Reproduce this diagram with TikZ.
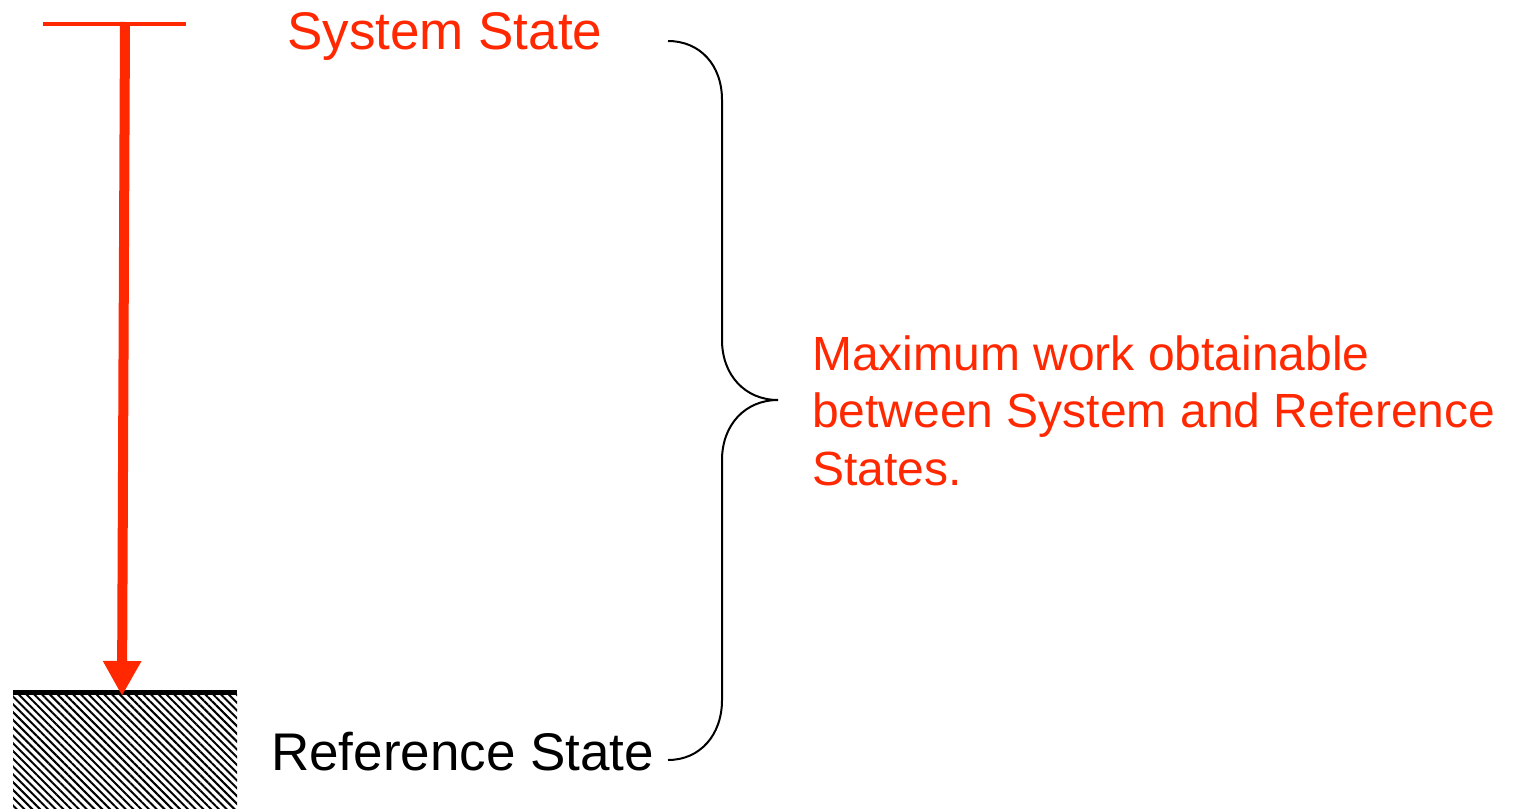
\documentclass[tikz,border=0pt]{standalone}
\usepackage{fontspec}
\setmainfont{Liberation Sans}
\usetikzlibrary{arrows.meta,patterns.meta}
\definecolor{sysred}{RGB}{255,40,0}
\tikzset{
  bigtext/.style={inner sep=0pt, anchor=base west, font=\fontsize{53}{62}\selectfont},
  midtext/.style={inner sep=0pt, anchor=base west, align=left, font=\fontsize{48}{57.5}\selectfont},
  bracepath/.style={line width=2pt, black},
}
\begin{document}
\begin{tikzpicture}[x=1pt,y=-1pt]
\useasboundingbox (0,0) rectangle (1514,808);
% ground
\fill[pattern={Lines[angle=-45,distance=5.5pt,line width=2pt]}] (13,694) rectangle (237,808);
\coordinate (gl) at (13,692);
\coordinate (gr) at (237,692);
\draw[line width=5pt] (gl) -- (gr);
% top bar
\coordinate (tl) at (43,24);
\coordinate (tr) at (186,24);
\draw[sysred, line width=4pt] (tl) -- (tr);
% arrow
\coordinate (atop) at (125,22);
\coordinate (abot) at (122,696);
\draw[sysred, line width=10pt, -{Triangle[width=36pt,length=35pt]}] (atop) -- (abot);
% texts
\node[bigtext, text=sysred] (sys) at (287,50) {System State};
\node[bigtext, text=black] (ref) at (271,770) {Reference State};
\node[midtext, text=sysred] (max) at (812,485) {Maximum work obtainable\\between System and Reference\\States.};
% brace
\coordinate (b1) at (668,41);
\coordinate (b2) at (778,400);
\coordinate (b3) at (668,760);
\draw[bracepath] (b1) .. controls (700,41) and (722,65) .. (722,100) -- (722,340)
  .. controls (722,375) and (745,400) .. (b2)
  .. controls (745,400) and (722,425) .. (722,460) -- (722,700)
  .. controls (722,735) and (700,760) .. (b3);
\end{tikzpicture}
\end{document}
